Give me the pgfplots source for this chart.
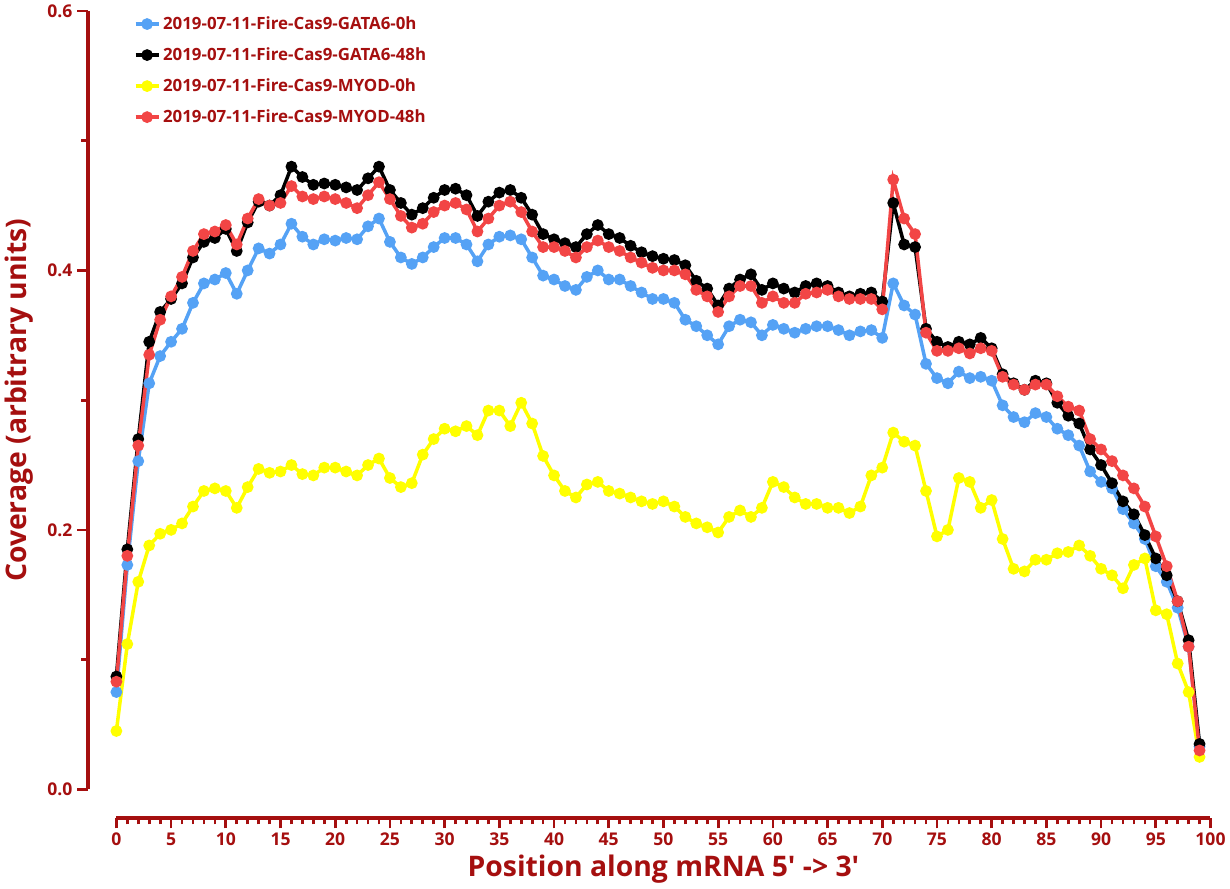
\documentclass[border=0pt]{standalone}
\usepackage{pgfplots}
\pgfplotsset{compat=1.18}
\usepackage{fontspec}
\setmainfont{Open Sans}
\newfontfamily\nolig{Open Sans}[Ligatures=ResetAll]
\definecolor{dr}{HTML}{A50F0F}
\definecolor{cb}{HTML}{55A2F5}
\definecolor{cr}{HTML}{F24545}
\definecolor{cy}{HTML}{FFFF00}
\begin{document}
\begin{tikzpicture}
\begin{axis}[scale only axis, width=811pt, height=577pt,
 xmin=0, xmax=100, ymin=0, ymax=0.6,
 axis lines=left, axis x line shift=21pt, axis y line shift=21pt,
 axis line style={dr, line width=3pt, -},
 every tick/.style={dr, line width=2pt},
 xtick={0,5,...,100}, minor x tick num=4, ytick={0,0.2,0.4,0.6},
 minor y tick num=1,
 major tick length=8pt, minor tick length=5pt,
 tick align=outside,
 /pgf/number format/assume math mode=true,
 yticklabel style={/pgf/number format/fixed, /pgf/number format/fixed zerofill, /pgf/number format/precision=1},
 ticklabel style={font=\fontsize{13}{15}\selectfont\bfseries, text=dr},
 xlabel={{\nolig Position along mRNA 5' -> 3'}}, ylabel={Coverage (arbitrary units)},
 label style={font=\fontsize{21}{24}\selectfont\bfseries, text=dr},
 ylabel style={yshift=4pt},
 legend style={draw=none, at={(0.012,1.0)}, anchor=north west, font=\fontsize{12.5}{15}\selectfont\bfseries, text=dr, row sep=8pt},
 legend cell align=left,
 every axis plot/.append style={line width=2.6pt, mark=*, mark size=3pt},
 clip=false]
\addplot[cb, mark options={fill=cb,draw=cb}] coordinates {(0,0.075)(1,0.173)(2,0.253)(3,0.313)(4,0.334)(5,0.345)(6,0.355)(7,0.375)(8,0.39)(9,0.393)(10,0.398)(11,0.382)(12,0.4)(13,0.417)(14,0.413)(15,0.42)(16,0.436)(17,0.426)(18,0.42)(19,0.424)(20,0.423)(21,0.425)(22,0.424)(23,0.434)(24,0.44)(25,0.422)(26,0.41)(27,0.405)(28,0.41)(29,0.418)(30,0.425)(31,0.425)(32,0.42)(33,0.407)(34,0.42)(35,0.426)(36,0.427)(37,0.424)(38,0.41)(39,0.396)(40,0.393)(41,0.388)(42,0.385)(43,0.395)(44,0.4)(45,0.393)(46,0.393)(47,0.388)(48,0.383)(49,0.378)(50,0.378)(51,0.375)(52,0.362)(53,0.357)(54,0.35)(55,0.343)(56,0.357)(57,0.362)(58,0.36)(59,0.35)(60,0.358)(61,0.355)(62,0.352)(63,0.355)(64,0.357)(65,0.357)(66,0.354)(67,0.35)(68,0.353)(69,0.354)(70,0.348)(71,0.39)(72,0.373)(73,0.366)(74,0.328)(75,0.317)(76,0.313)(77,0.322)(78,0.317)(79,0.318)(80,0.315)(81,0.296)(82,0.287)(83,0.283)(84,0.29)(85,0.287)(86,0.278)(87,0.273)(88,0.265)(89,0.245)(90,0.237)(91,0.232)(92,0.216)(93,0.205)(94,0.193)(95,0.172)(96,0.16)(97,0.14)(98,0.11)(99,0.033)};
\addlegendentry{2019-07-11-Fire-Cas9-GATA6-0h}
\addplot[black, mark options={fill=black,draw=black}] coordinates {(0,0.087)(1,0.185)(2,0.27)(3,0.345)(4,0.368)(5,0.378)(6,0.39)(7,0.41)(8,0.422)(9,0.425)(10,0.432)(11,0.415)(12,0.437)(13,0.453)(14,0.45)(15,0.458)(16,0.48)(17,0.472)(18,0.466)(19,0.467)(20,0.466)(21,0.464)(22,0.462)(23,0.471)(24,0.48)(25,0.462)(26,0.452)(27,0.443)(28,0.448)(29,0.456)(30,0.462)(31,0.463)(32,0.458)(33,0.442)(34,0.453)(35,0.46)(36,0.462)(37,0.456)(38,0.443)(39,0.428)(40,0.424)(41,0.421)(42,0.418)(43,0.428)(44,0.435)(45,0.428)(46,0.425)(47,0.419)(48,0.414)(49,0.411)(50,0.409)(51,0.408)(52,0.404)(53,0.392)(54,0.386)(55,0.373)(56,0.386)(57,0.393)(58,0.397)(59,0.385)(60,0.39)(61,0.386)(62,0.383)(63,0.388)(64,0.39)(65,0.388)(66,0.383)(67,0.38)(68,0.382)(69,0.383)(70,0.376)(71,0.452)(72,0.42)(73,0.418)(74,0.355)(75,0.345)(76,0.341)(77,0.345)(78,0.343)(79,0.348)(80,0.34)(81,0.32)(82,0.313)(83,0.308)(84,0.315)(85,0.313)(86,0.298)(87,0.288)(88,0.282)(89,0.262)(90,0.25)(91,0.236)(92,0.222)(93,0.212)(94,0.196)(95,0.178)(96,0.165)(97,0.145)(98,0.115)(99,0.035)};
\addlegendentry{2019-07-11-Fire-Cas9-GATA6-48h}
\addplot[cy, mark options={fill=cy,draw=cy}] coordinates {(0,0.045)(1,0.112)(2,0.16)(3,0.188)(4,0.197)(5,0.2)(6,0.205)(7,0.218)(8,0.23)(9,0.232)(10,0.23)(11,0.217)(12,0.233)(13,0.247)(14,0.244)(15,0.245)(16,0.25)(17,0.243)(18,0.242)(19,0.248)(20,0.248)(21,0.245)(22,0.242)(23,0.25)(24,0.255)(25,0.24)(26,0.233)(27,0.236)(28,0.258)(29,0.27)(30,0.278)(31,0.276)(32,0.28)(33,0.273)(34,0.292)(35,0.292)(36,0.28)(37,0.298)(38,0.282)(39,0.257)(40,0.242)(41,0.23)(42,0.225)(43,0.235)(44,0.237)(45,0.23)(46,0.228)(47,0.225)(48,0.222)(49,0.22)(50,0.222)(51,0.218)(52,0.21)(53,0.205)(54,0.202)(55,0.198)(56,0.21)(57,0.215)(58,0.21)(59,0.217)(60,0.237)(61,0.233)(62,0.225)(63,0.22)(64,0.22)(65,0.217)(66,0.217)(67,0.213)(68,0.218)(69,0.242)(70,0.248)(71,0.275)(72,0.268)(73,0.265)(74,0.23)(75,0.195)(76,0.2)(77,0.24)(78,0.237)(79,0.217)(80,0.223)(81,0.193)(82,0.17)(83,0.168)(84,0.177)(85,0.177)(86,0.182)(87,0.183)(88,0.188)(89,0.18)(90,0.17)(91,0.165)(92,0.155)(93,0.173)(94,0.178)(95,0.138)(96,0.135)(97,0.097)(98,0.075)(99,0.025)};
\addlegendentry{2019-07-11-Fire-Cas9-MYOD-0h}
\addplot[cr, mark options={fill=cr,draw=cr}] coordinates {(0,0.083)(1,0.18)(2,0.265)(3,0.335)(4,0.362)(5,0.38)(6,0.395)(7,0.415)(8,0.428)(9,0.43)(10,0.435)(11,0.42)(12,0.44)(13,0.455)(14,0.45)(15,0.452)(16,0.465)(17,0.457)(18,0.455)(19,0.457)(20,0.455)(21,0.452)(22,0.448)(23,0.458)(24,0.468)(25,0.455)(26,0.442)(27,0.433)(28,0.436)(29,0.445)(30,0.45)(31,0.452)(32,0.447)(33,0.43)(34,0.44)(35,0.45)(36,0.453)(37,0.445)(38,0.43)(39,0.418)(40,0.418)(41,0.415)(42,0.41)(43,0.418)(44,0.423)(45,0.418)(46,0.415)(47,0.41)(48,0.406)(49,0.402)(50,0.4)(51,0.4)(52,0.397)(53,0.385)(54,0.38)(55,0.368)(56,0.38)(57,0.388)(58,0.388)(59,0.375)(60,0.38)(61,0.375)(62,0.375)(63,0.382)(64,0.383)(65,0.385)(66,0.38)(67,0.378)(68,0.378)(69,0.378)(70,0.37)(71,0.47)(72,0.44)(73,0.428)(74,0.352)(75,0.338)(76,0.338)(77,0.34)(78,0.336)(79,0.34)(80,0.338)(81,0.318)(82,0.312)(83,0.308)(84,0.312)(85,0.312)(86,0.303)(87,0.295)(88,0.292)(89,0.27)(90,0.262)(91,0.253)(92,0.242)(93,0.232)(94,0.218)(95,0.195)(96,0.172)(97,0.145)(98,0.11)(99,0.03)};
\addlegendentry{2019-07-11-Fire-Cas9-MYOD-48h}
\end{axis}
\end{tikzpicture}
\end{document}
